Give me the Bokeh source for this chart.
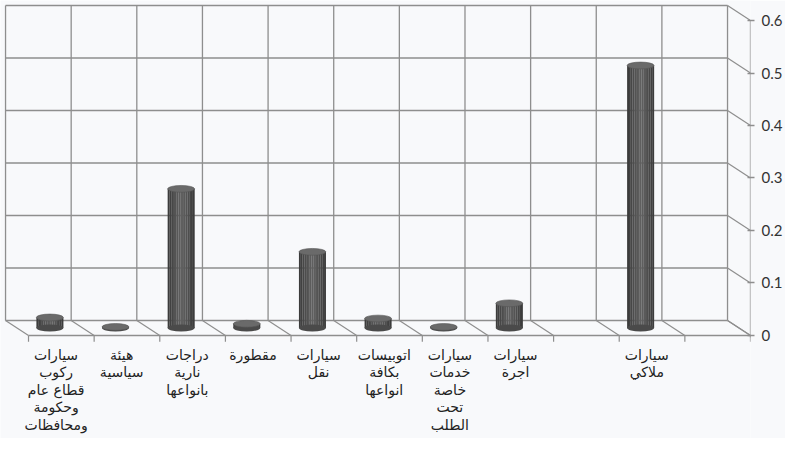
from bokeh.plotting import figure
from bokeh.models import LinearAxis, FixedTicker, Range1d, ColumnDataSource
from bokeh.core.properties import value
from bokeh.embed import file_html
from bokeh.resources import INLINE

# ---- data ----
labels = [
    "سيارات\nركوب\nقطاع عام\nوحكومة\nومحافظات",
    "هيئة\nسياسية",
    "دراجات\nنارية\nبانواعها",
    "مقطورة",
    "سيارات\nنقل",
    "اتوبيسات\nبكافة\nانواعها",
    "سيارات\nخدمات\nخاصة\nتحت\nالطلب",
    "سيارات\nاجرة",
    "",
    "سيارات\nملاكي",
    "",
]
values = [0.02, 0.002, 0.265, 0.008, 0.145, 0.018, 0.002, 0.047, None, 0.5, None]
y_ticks = [0, 0.1, 0.2, 0.3, 0.4, 0.5, 0.6]

n = len(labels)
# 3D depth offset (back plane relative to front plane), in data units
DX = -0.35
DY = 0.0286
GRID = "#8e8e8e"

p = figure(frame_width=750, frame_height=438, output_backend="svg", toolbar_location=None,
           x_axis_type=None, y_axis_type=None,
           x_range=Range1d(-0.4268, n), y_range=Range1d(-0.1962, 0.6381),
           min_border=0, background_fill_color="#f8f9fb", border_fill_color="#f8f9fb")
p.outline_line_color = None
p.grid.visible = False

ymax = y_ticks[-1]
# back wall horizontal gridlines
p.segment(x0=[DX] * len(y_ticks), y0=[t + DY for t in y_ticks],
          x1=[n + DX] * len(y_ticks), y1=[t + DY for t in y_ticks],
          line_color=GRID, line_width=1.3)
# back wall vertical gridlines
ks = list(range(n + 1))
p.segment(x0=[k + DX for k in ks], y0=[DY] * len(ks), x1=[k + DX for k in ks], y1=[ymax + DY] * len(ks),
          line_color=GRID, line_width=1.3)
# right side wall diagonals
p.segment(x0=[n + DX] * len(y_ticks), y0=[t + DY for t in y_ticks], x1=[n] * len(y_ticks), y1=y_ticks,
          line_color=GRID, line_width=1.2)
# floor diagonals
p.segment(x0=[k + DX for k in ks], y0=[DY] * len(ks), x1=ks, y1=[0] * len(ks),
          line_color=GRID, line_width=1.2)
# front floor edge and category ticks
p.segment(x0=[0], y0=[0], x1=[n], y1=[0], line_color=GRID, line_width=1.3)
p.segment(x0=ks, y0=[0] * len(ks), x1=ks, y1=[-0.012] * len(ks), line_color=GRID, line_width=1.2)
# right value axis line
p.segment(x0=[n], y0=[-0.004], x1=[n], y1=[ymax], line_color=GRID, line_width=1.3)

# cylinders
BW = 0.41
EH = 0.013
base = DY / 2
idx = [i for i, v in enumerate(values) if v is not None]
cx = [i + 0.5 + DX / 2 for i in idx]
tops = [base + values[i] for i in idx]

shades = ["#3b3b3b", "#414141", "#474747", "#4d4d4d", "#535353", "#585858", "#5c5c5c", "#5f5f5f",
          "#5e5e5e", "#5a5a5a", "#545454", "#4e4e4e", "#474747", "#414141", "#3c3c3c"]
ns = len(shades)
for j, c in enumerate(shades):
    p.quad(left=[x - BW / 2 + BW * j / ns for x in cx], right=[x - BW / 2 + BW * (j + 1) / ns + 0.002 for x in cx],
           bottom=[base] * len(cx), top=tops, fill_color=c, line_color=None)
p.ellipse(x=cx, y=[base] * len(cx), width=BW, height=EH, fill_color="#4a4a4a", line_color=None)
p.ellipse(x=cx, y=tops, width=BW, height=EH, fill_color="#6a6a6a", line_color="#555555", line_width=0.6)

# category labels
src = ColumnDataSource(dict(x=[i + 0.42 for i in range(n)], y=[-0.021] * n, t=labels))
p.text(x="x", y="y", text="t", source=src, text_align="center", text_baseline="top",
       text_font=value("DejaVu Sans"), text_font_size="14px", text_color="#222222",
       text_line_height=1.1)

# right axis
ax = LinearAxis(ticker=FixedTicker(ticks=y_ticks))
ax.axis_line_color = None
ax.major_tick_line_color = GRID
ax.major_tick_line_width = 1.3
ax.major_tick_in = 3
ax.major_tick_out = 4
ax.minor_tick_line_color = None
ax.major_label_text_font = "Lato"
ax.major_label_text_font_size = "15px"
ax.major_label_text_color = "#333333"
ax.major_label_standoff = 7
p.add_layout(ax, "right")

open("out.html", "w").write(file_html(p, INLINE))
